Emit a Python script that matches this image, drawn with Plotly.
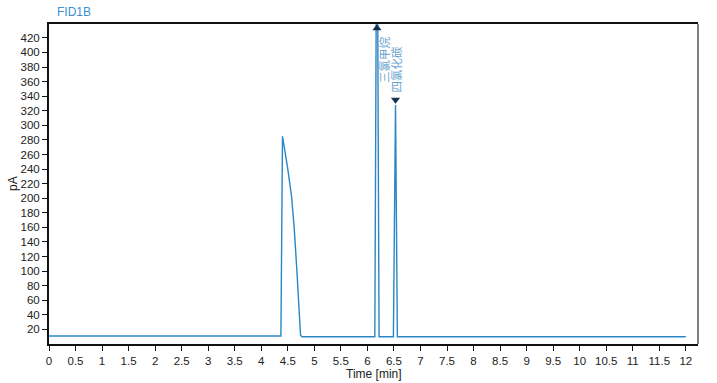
import plotly.graph_objects as go

# Chromatogram trace (FID1B)
time_min = [0, 2.40, 2.42, 3.80, 4.30, 4.37, 4.40, 4.45, 4.50, 4.57, 4.62, 4.67, 4.74, 4.77,
            6.10, 6.14, 6.18, 6.22, 6.26, 6.45, 6.49, 6.53, 6.565, 6.60, 12.0]
signal_pA = [11, 11, 10, 10, 10.5, 11, 285, 265, 240, 203, 160, 102, 12, 10,
             10, 10, 700, 10, 10, 10, 10, 328, 10, 10, 10]

# Peak labels
peak_names = ["三氯甲烷", "四氯化碳"]
peak_rt = [6.18, 6.53]
marker_y = [433, 335]
marker_symbols = ["triangle-up", "triangle-down"]
label_x = [6.30, 6.545]
label_y = [390, 377]

y_ticks = list(range(20, 421, 20))
x_ticks = [i * 0.5 for i in range(25)]
x_tick_text = [("%g" % v) for v in x_ticks]

fig = go.Figure()
fig.add_trace(go.Scatter(x=time_min, y=signal_pA, mode="lines",
                         line=dict(color="#2a86c6", width=1.4), showlegend=False,
                         hoverinfo="skip"))
fig.add_trace(go.Scatter(x=peak_rt, y=marker_y, mode="markers",
                         marker=dict(symbol=marker_symbols, size=8, color="#15334f"),
                         showlegend=False, cliponaxis=False))

for name, lx, ly in zip(peak_names, label_x, label_y):
    fig.add_annotation(x=lx, y=ly, text=name, showarrow=False, textangle=-90,
                       font=dict(family="Noto Sans CJK SC", size=11.5, color="#6ba3cc"))

fig.add_annotation(xref="paper", yref="paper", x=0.01, y=1.0, yshift=3,
                   xanchor="left", yanchor="bottom", text="FID1B", showarrow=False,
                   font=dict(family="Liberation Sans", size=12, color="#3a8fd0"))

# axis titles
fig.add_annotation(xref="paper", yref="paper", x=0.5, y=0, yshift=-21,
                   xanchor="center", yanchor="top", text="Time [min]", showarrow=False,
                   font=dict(family="Liberation Sans", size=12, color="#222"))
fig.add_annotation(xref="paper", yref="paper", x=0, y=0.5, xshift=-36, yshift=0,
                   xanchor="center", yanchor="middle", text="pA", showarrow=False,
                   textangle=-90,
                   font=dict(family="Liberation Sans", size=12, color="#222"))

# gray right border
fig.add_shape(type="line", xref="paper", yref="paper", x0=1, x1=1, y0=0, y1=1,
              line=dict(color="#808080", width=2))

fig.update_layout(
    width=717, height=383,
    margin=dict(l=49, r=19, t=24, b=39),
    paper_bgcolor="white", plot_bgcolor="white",
    font=dict(family="Liberation Sans", size=12, color="#222"),
    xaxis=dict(range=[0, 12.23], tickvals=x_ticks, ticktext=x_tick_text,
               showgrid=False, zeroline=False, showline=True, linecolor="#111",
               linewidth=2, mirror=True, ticks="outside", ticklen=5, tickcolor="#111",
               tickfont=dict(size=11.5), automargin=False),
    yaxis=dict(range=[0, 439], tickvals=y_ticks, showgrid=False, zeroline=False,
               showline=True, linecolor="#111", linewidth=2, ticks="outside",
               ticklen=5, tickcolor="#111", tickfont=dict(size=11.5), automargin=False),
)

fig.write_html("out.html")
